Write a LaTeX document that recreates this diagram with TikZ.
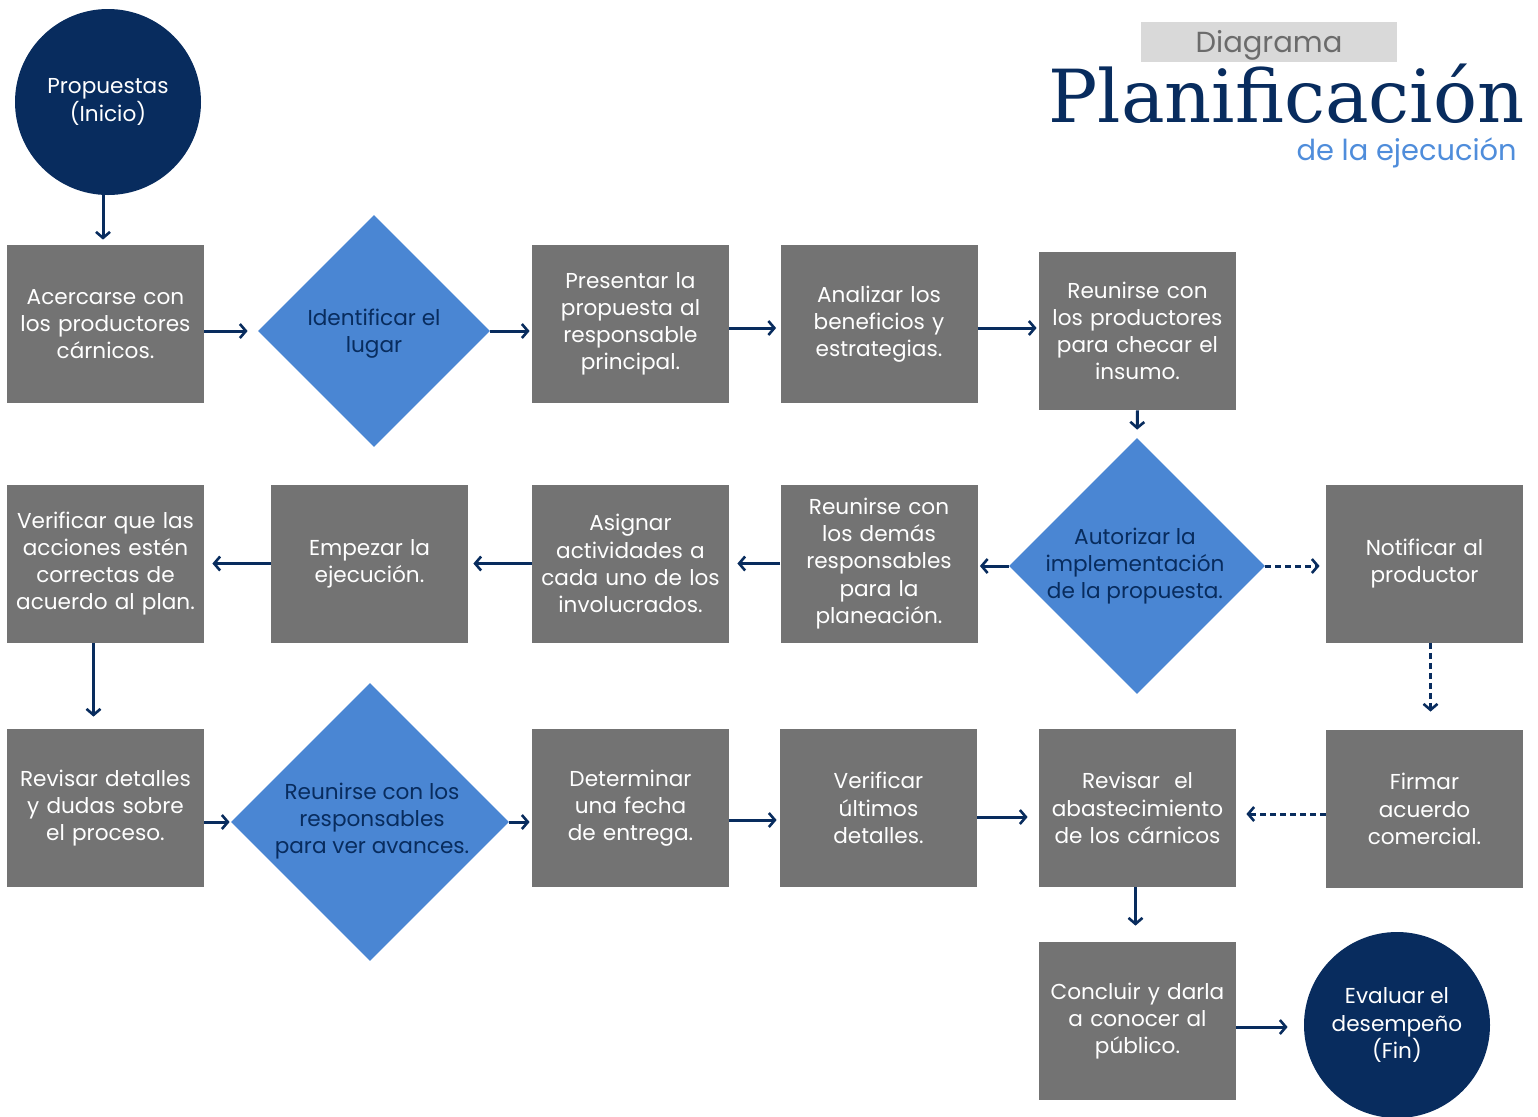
\documentclass[tikz,border=0pt]{standalone}
\usepackage{fontspec}
\setmainfont{Poppins}
\newfontfamily\titlefont{DejaVu Serif}
\usetikzlibrary{shapes.geometric,arrows.meta}
\definecolor{navy}{HTML}{082C5E}
\definecolor{boxgray}{HTML}{737373}
\definecolor{dblue}{HTML}{4A86D3}
\definecolor{lblue}{HTML}{4F8DDB}
\definecolor{tagfill}{HTML}{D9D9D9}
\definecolor{taggray}{HTML}{6B6B6B}
\begin{document}
\begin{tikzpicture}[x=0.5pt,y=-0.5pt,
  box/.style={rectangle, fill=boxgray, minimum width=98.5pt, minimum height=79pt,
    text width=96pt, align=center, text=white, inner sep=0pt,
    font=\fontsize{10.8}{13.6}\selectfont},
  diam/.style={diamond, fill=dblue, inner sep=0pt, aspect=1},
  dtext/.style={text=navy, align=center, inner sep=0pt, font=\fontsize{10.8}{13.6}\selectfont},
  circ/.style={circle, fill=navy, minimum size=93pt, inner sep=0pt, text=white,
    align=center, font=\fontsize{10.8}{13.6}\selectfont},
  arr/.style={draw=navy, line width=1.5pt, -{Straight Barb[length=3pt,width=7pt,line width=1.3pt]}},
  darr/.style={arr, dash pattern=on 3pt off 2pt},
]
\useasboundingbox (0,0) rectangle (1538,1116);
\clip (0,0) rectangle (1538,1116);
\fill[white] (0,0) rectangle (1538,1116);

% title
\node[fill=tagfill, minimum width=128pt, minimum height=20pt, inner sep=0pt,
  text height=10.5pt, text depth=0pt,
  text=taggray, font=\fontsize{14.5}{16}\selectfont] (dg) at (1269,42) {Diagrama};
\node[anchor=base, text=navy, inner sep=0pt] (pl) at (1286.5,122)
  {\resizebox{238pt}{!}{\titlefont Planificación}};
\node[anchor=base east, text=lblue, inner sep=0pt] (de) at (1517,160)
  {\resizebox{110pt}{!}{de la ejecución}};

% start
\node[circ] (start) at (108,102) {Propuestas\\(Inicio)};

% row 1
\node[box] (a1) at (105.5,324) {Acercarse con\\los productores\\cárnicos.};
\node[diam, minimum width=116pt, minimum height=116pt] (d1) at (374,331) {};
\node[dtext] (d1t) at (374,334) {Identificar el\\lugar};
\node[box] (a3) at (630.5,324) {Presentar la\\propuesta al\\responsable\\principal.};
\node[box] (a4) at (879,324) {Analizar los\\beneficios y\\estrategias.};
\node[box] (a5) at (1137.5,331) {Reunirse con\\los productores\\para checar el\\insumo.};

% row 2
\node[diam, minimum width=128pt, minimum height=128pt] (d2) at (1137,566) {};
\node[dtext] (d2t) at (1135,566) {Autorizar la\\implementación\\de la propuesta.};
\node[box] (b1) at (1424.5,563.5) {Notificar al\\productor};
\node[box] (b2) at (879,563.5) {Reunirse con\\los demás\\responsables\\para la\\planeación.};
\node[box] (b3) at (630.5,563.5) {Asignar\\actividades a\\cada uno de los\\involucrados.};
\node[box] (b4) at (369.5,563.5) {Empezar la\\ejecución.};
\node[box] (b5) at (105.5,563.5) {Verificar que las\\acciones estén\\correctas de\\acuerdo al plan.};

% row 3
\node[box] (c1) at (105.5,808) {Revisar detalles\\y dudas sobre\\el proceso.};
\node[diam, minimum width=139pt, minimum height=139pt] (d3) at (370,822) {};
\node[dtext] (d3t) at (372,821) {Reunirse con los\\responsables\\para ver avances.};
\node[box] (c3) at (630.5,808) {Determinar\\una fecha\\de entrega.};
\node[box] (c4) at (878.5,808) {Verificar\\últimos\\detalles.};
\node[box] (c5) at (1137.5,808) {Revisar\ \ el\\abastecimiento\\de los cárnicos};
\node[box] (c6) at (1424.5,809) {Firmar\\acuerdo\\comercial.};

% row 4
\node[box] (e1) at (1137.5,1021) {Concluir y darla\\a conocer al\\público.};
\node[circ] (fin) at (1397,1025) {Evaluar el\\desempeño\\(Fin)};

% connectors
\draw[arr, shorten >=2.5pt] ([xshift=-2.5pt]start.south) -- ([xshift=-2.5pt]start.south |- a1.north);
\draw[arr, shorten >=5pt] (a1.east |- d1) -- (d1.west);
\draw[arr, shorten >=1pt] (d1.east) -- (d1.east -| a3.west);
\draw[arr, shorten >=2pt] ([yshift=-2pt]a3.east) -- ([yshift=-2pt]a4.west);
\draw[arr, shorten >=1pt] ([yshift=-2pt]a4.east) -- ([yshift=-2pt]a4.east -| a5.west);
\draw[arr, shorten >=4pt] (a5.south) -- (d2.north);

\draw[arr, shorten >=1pt] (d2.west) -- (d2.west -| b2.east);
\draw[darr, shorten >=3pt] (d2.east) -- (d2.east -| b1.west);
\draw[arr, shorten >=4pt] (b2.west) -- (b3.east);
\draw[arr, shorten >=2.5pt] (b3.west) -- (b4.east);
\draw[arr, shorten >=4pt] (b4.west) -- (b5.east);
\draw[arr, shorten >=6pt] ([xshift=-6pt]b5.south) -- ([xshift=-6pt]b5.south |- c1.north);
\draw[darr, shorten >=9pt] ([xshift=3pt]b1.south) -- ([xshift=3pt]b1.south |- c6.north);

\draw[arr, shorten >=0.5pt] (c1.east |- d3) -- (d3.west);
\draw[arr, shorten >=1pt] (d3.east) -- (d3.east -| c3.west);
\draw[arr, shorten >=1.5pt] ([yshift=-6pt]c3.east) -- ([yshift=-6pt]c4.west);
\draw[arr, shorten >=5.5pt] ([yshift=-4.5pt]c4.east) -- ([yshift=-4.5pt]c5.west);
\draw[darr, shorten >=5pt] ([yshift=-3pt]c5.east -| c6.west) -- ([yshift=-3pt]c5.east);
\draw[arr, shorten >=8pt] ([xshift=-1pt]c5.south) -- ([xshift=-1pt]e1.north);
\draw[arr, shorten >=8pt] ([yshift=-3pt]e1.east) -- ([yshift=-3pt]e1.east -| fin.west);
\end{tikzpicture}
\end{document}
